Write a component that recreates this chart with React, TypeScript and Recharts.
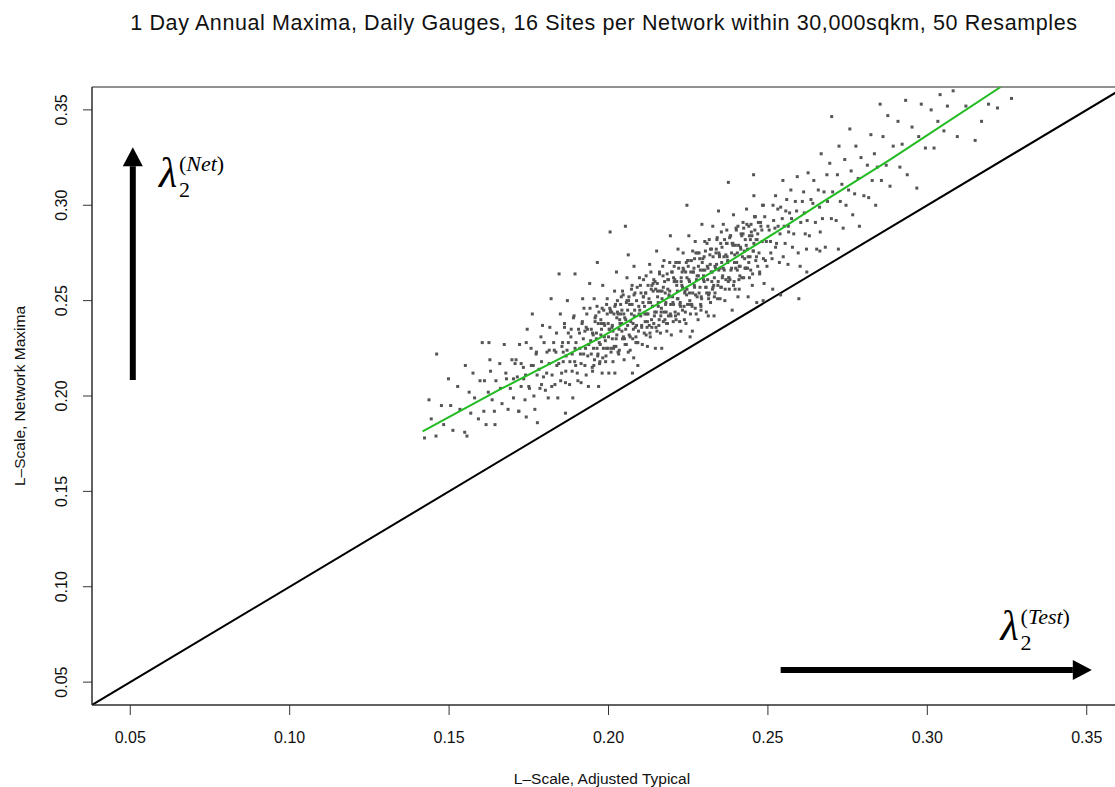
// Network maxima vs adjusted typical L-scale, R-style scatter redrawn with Recharts

import React from "react";
import {
  ScatterChart,
  Scatter,
  XAxis,
  YAxis,
  ReferenceLine,
  ReferenceArea,
  ReferenceDot,
} from "recharts";

const AXIS_MIN = 0.038;
const AXIS_MAX = 0.362;

const xTicks = [0.05, 0.1, 0.15, 0.2, 0.25, 0.3, 0.35];
const yTicks = [0.05, 0.1, 0.15, 0.2, 0.25, 0.3, 0.35];

const TITLE =
  "1 Day Annual Maxima, Daily Gauges, 16 Sites per Network within 30,000sqkm, 50 Resamples";
const X_LABEL = "L–Scale, Adjusted Typical";
const Y_LABEL = "L–Scale, Network Maxima";

// resampled networks, [adjusted typical, network maxima]
const tailLow: [number, number][] = [
  [0.1423, 0.178], [0.1437, 0.198], [0.1444, 0.188], [0.1459, 0.179], [0.1461, 0.222],
  [0.1476, 0.195], [0.1483, 0.185], [0.1498, 0.209], [0.1505, 0.195], [0.1512, 0.182],
  [0.1527, 0.205], [0.1534, 0.193], [0.1549, 0.181], [0.1551, 0.216], [0.1556, 0.179],
  [0.1563, 0.202], [0.1568, 0.191], [0.1575, 0.212], [0.158, 0.199], [0.1592, 0.188],
  [0.1597, 0.208], [0.1604, 0.228], [0.1609, 0.192], [0.1611, 0.208], [0.1616, 0.185],
  [0.1623, 0.202], [0.1628, 0.219], [0.1635, 0.198], [0.163, 0.213], [0.1625, 0.228],
  [0.1642, 0.192], [0.1647, 0.208], [0.1644, 0.185], [0.1659, 0.217], [0.1661, 0.204],
  [0.1666, 0.196], [0.1673, 0.227], [0.1678, 0.212], [0.1685, 0.193], [0.168, 0.209],
  [0.1692, 0.204], [0.1697, 0.219], [0.1702, 0.199], [0.1707, 0.217], [0.1714, 0.21],
  [0.1719, 0.192], [0.1721, 0.227], [0.1726, 0.205], [0.1733, 0.215], [0.1738, 0.198],
  [0.1745, 0.235], [0.174, 0.211], [0.1742, 0.189], [0.1752, 0.204], [0.1757, 0.225],
  [0.1764, 0.216], [0.1769, 0.193], [0.1761, 0.243], [0.1776, 0.211], [0.1773, 0.222],
  [0.1777, 0.186], [0.1788, 0.231], [0.1785, 0.204], [0.179, 0.218], [0.1796, 0.21],
  [0.1793, 0.237], [0.1802, 0.203], [0.1807, 0.223],
];

const bandLower: [number, number][] = [
  [0.1814, 0.217], [0.1811, 0.199], [0.1816, 0.236], [0.1823, 0.211], [0.1828, 0.228],
  [0.182, 0.251], [0.1835, 0.223], [0.1832, 0.206], [0.1837, 0.233], [0.1844, 0.217],
  [0.1849, 0.243], [0.1841, 0.199], [0.1856, 0.228], [0.1853, 0.212], [0.1858, 0.223],
  [0.1865, 0.207], [0.1862, 0.238], [0.1867, 0.221], [0.1874, 0.228], [0.1879, 0.218],
  [0.1871, 0.25], [0.1886, 0.213], [0.1883, 0.235], [0.1888, 0.199], [0.1895, 0.225],
  [0.1892, 0.242], [0.1897, 0.216], [0.1904, 0.208], [0.1909, 0.233], [0.1845, 0.264],
  [0.1865, 0.191], [0.1895, 0.264],
  [0.1912, 0.222], [0.1917, 0.238], [0.1914, 0.207], [0.1919, 0.251], [0.1921, 0.23],
  [0.1926, 0.216], [0.1923, 0.246], [0.1928, 0.225], [0.1935, 0.221], [0.193, 0.236],
  [0.1937, 0.205], [0.1932, 0.243], [0.1944, 0.229], [0.1949, 0.215], [0.1941, 0.259],
  [0.1946, 0.235], [0.1953, 0.225], [0.1958, 0.241], [0.195, 0.213], [0.1955, 0.251],
  [0.1962, 0.233], [0.1967, 0.222], [0.1964, 0.247], [0.1969, 0.205], [0.1971, 0.228],
  [0.1976, 0.24], [0.1973, 0.218], [0.1978, 0.235], [0.1985, 0.245], [0.198, 0.212],
  [0.1987, 0.231], [0.1982, 0.258], [0.1994, 0.225], [0.1999, 0.238], [0.1991, 0.218],
  [0.1996, 0.251], [0.2003, 0.235], [0.2008, 0.223], [0.2006, 0.244], [0.2001, 0.212],
  [0.2005, 0.286], [0.1965, 0.27],
  [0.2012, 0.23], [0.2017, 0.243], [0.2014, 0.218], [0.2019, 0.255], [0.2011, 0.236],
  [0.2026, 0.241], [0.2023, 0.226], [0.2028, 0.25], [0.202, 0.212], [0.2025, 0.265],
  [0.2033, 0.235], [0.2038, 0.248], [0.203, 0.223], [0.2035, 0.24], [0.2042, 0.245],
  [0.2047, 0.231], [0.2044, 0.255], [0.2049, 0.219], [0.2041, 0.238], [0.2056, 0.227],
  [0.2051, 0.241], [0.2058, 0.262], [0.2054, 0.235], [0.2063, 0.25], [0.2068, 0.224],
  [0.206, 0.245], [0.2065, 0.232], [0.2062, 0.274], [0.2077, 0.238], [0.2072, 0.256],
  [0.2079, 0.22], [0.2074, 0.248], [0.2081, 0.242], [0.2086, 0.231], [0.2083, 0.254],
  [0.2088, 0.237], [0.208, 0.268], [0.2095, 0.247], [0.209, 0.228], [0.2097, 0.262],
  [0.2092, 0.216], [0.2104, 0.237], [0.2109, 0.252], [0.2101, 0.242], [0.2053, 0.289],
  [0.2075, 0.212],
];

const core: [number, number][] = [
  [0.2113, 0.247], [0.2118, 0.232], [0.211, 0.261], [0.2115, 0.239], [0.2117, 0.254],
  [0.2122, 0.226], [0.2127, 0.251], [0.2124, 0.243], [0.2129, 0.269], [0.2121, 0.236],
  [0.2136, 0.258], [0.2131, 0.231], [0.2138, 0.247], [0.2133, 0.265], [0.2135, 0.24],
  [0.2145, 0.244], [0.214, 0.255], [0.2147, 0.225], [0.2142, 0.261], [0.2149, 0.236],
  [0.2154, 0.252], [0.2159, 0.24], [0.2151, 0.276], [0.2156, 0.247], [0.2153, 0.259],
  [0.2163, 0.233], [0.2168, 0.251], [0.216, 0.265], [0.2165, 0.244], [0.2167, 0.225],
  [0.2172, 0.257], [0.2177, 0.24], [0.2174, 0.271], [0.2179, 0.248], [0.2171, 0.263],
  [0.2181, 0.244], [0.2186, 0.256], [0.2183, 0.234], [0.2188, 0.261], [0.2185, 0.238],
  [0.219, 0.253], [0.2195, 0.248], [0.2192, 0.27], [0.2197, 0.232], [0.2194, 0.284],
  [0.2209, 0.244], [0.2204, 0.262], [0.2201, 0.252], [0.2206, 0.268], [0.2203, 0.239],
  [0.2214, 0.258], [0.2219, 0.243], [0.2211, 0.27], [0.2216, 0.251], [0.2218, 0.277],
  [0.2223, 0.239], [0.2228, 0.262], [0.2225, 0.249], [0.222, 0.267], [0.2227, 0.234],
  [0.2232, 0.257], [0.2237, 0.247], [0.2234, 0.275], [0.2239, 0.254], [0.2231, 0.265],
  [0.2241, 0.244], [0.2246, 0.262], [0.2243, 0.238], [0.2248, 0.271], [0.2245, 0.253],
  [0.225, 0.268], [0.2255, 0.25], [0.2252, 0.284], [0.2257, 0.243], [0.2254, 0.26],
  [0.2269, 0.258], [0.2264, 0.276], [0.2261, 0.248], [0.2266, 0.265], [0.2263, 0.234],
  [0.2278, 0.263], [0.2273, 0.253], [0.227, 0.272], [0.2275, 0.243], [0.2272, 0.281],
  [0.2287, 0.257], [0.2282, 0.268], [0.2289, 0.248], [0.2284, 0.275], [0.2281, 0.24],
  [0.2296, 0.266], [0.2291, 0.252], [0.2298, 0.263], [0.2293, 0.29], [0.229, 0.247],
  [0.2305, 0.257], [0.23, 0.273], [0.2307, 0.244], [0.2302, 0.266], [0.2309, 0.28],
  [0.2246, 0.3], [0.2256, 0.231],
  [0.2314, 0.253], [0.2319, 0.269], [0.2311, 0.261], [0.2316, 0.282], [0.2313, 0.242],
  [0.2323, 0.277], [0.2328, 0.257], [0.2325, 0.265], [0.232, 0.249], [0.2327, 0.289],
  [0.2332, 0.262], [0.2337, 0.275], [0.2334, 0.254], [0.2339, 0.269], [0.2331, 0.242],
  [0.2341, 0.283], [0.2346, 0.266], [0.2343, 0.258], [0.2348, 0.274], [0.2345, 0.297],
  [0.235, 0.251], [0.2355, 0.27], [0.2352, 0.28], [0.2357, 0.262], [0.2354, 0.257],
  [0.2368, 0.274], [0.2363, 0.266], [0.236, 0.29], [0.2365, 0.25], [0.2377, 0.262],
  [0.2372, 0.28], [0.2379, 0.256], [0.2374, 0.271], [0.2371, 0.287], [0.2386, 0.275],
  [0.2381, 0.261], [0.2388, 0.245], [0.2383, 0.284], [0.2395, 0.27], [0.239, 0.28],
  [0.2397, 0.256], [0.2392, 0.295], [0.2399, 0.267], [0.2404, 0.275], [0.2409, 0.261],
  [0.2401, 0.287], [0.2406, 0.252], [0.2376, 0.312],
];

// the darkest part of the cloud, close to the fitted curve
const denseCore: [number, number][] = [
  [0.1702, 0.209], [0.171, 0.219], [0.1718, 0.192], [0.1726, 0.217], [0.1734, 0.209],
  [0.1742, 0.228], [0.175, 0.205], [0.1758, 0.216], [0.1766, 0.2], [0.1774, 0.223],
  [0.1782, 0.214], [0.179, 0.206], [0.1798, 0.228], [0.1806, 0.212], [0.1814, 0.224],
  [0.1822, 0.205], [0.183, 0.224], [0.1838, 0.216],
  [0.185, 0.208], [0.1854, 0.226], [0.1858, 0.218], [0.1862, 0.236], [0.1866, 0.213],
  [0.187, 0.224], [0.1874, 0.233], [0.1878, 0.206], [0.1882, 0.231], [0.1886, 0.222],
  [0.189, 0.241], [0.1894, 0.218], [0.1898, 0.228], [0.1902, 0.212], [0.1906, 0.235],
  [0.191, 0.225], [0.1914, 0.217], [0.1918, 0.239], [0.1922, 0.222], [0.1926, 0.234],
  [0.193, 0.211], [0.1934, 0.235], [0.1938, 0.227], [0.1942, 0.246], [0.1946, 0.222],
  [0.195, 0.233], [0.1954, 0.216], [0.1958, 0.239], [0.1962, 0.23], [0.1966, 0.221],
  [0.197, 0.244], [0.1974, 0.227], [0.1978, 0.238], [0.1982, 0.22], [0.1986, 0.238],
  [0.199, 0.229], [0.1994, 0.248], [0.1998, 0.225], [0.2002, 0.235], [0.2006, 0.245],
  [0.201, 0.244], [0.2014, 0.234], [0.2018, 0.226], [0.2022, 0.248], [0.2026, 0.232],
  [0.203, 0.243], [0.2034, 0.224], [0.2038, 0.243], [0.2042, 0.234], [0.2046, 0.253],
  [0.205, 0.23], [0.2054, 0.24], [0.2058, 0.25], [0.2062, 0.223], [0.2066, 0.248],
  [0.207, 0.239], [0.2074, 0.258], [0.2078, 0.235], [0.2082, 0.245], [0.2086, 0.228],
  [0.209, 0.257], [0.2094, 0.234], [0.2098, 0.245], [0.2102, 0.254], [0.2106, 0.227],
  [0.211, 0.252], [0.2114, 0.243], [0.2118, 0.263], [0.2122, 0.239], [0.2126, 0.249],
  [0.213, 0.233], [0.2134, 0.256], [0.2138, 0.247], [0.2142, 0.238], [0.2146, 0.26],
  [0.215, 0.244], [0.2154, 0.255], [0.2158, 0.237], [0.2162, 0.255], [0.2166, 0.246],
  [0.217, 0.268], [0.2174, 0.244], [0.2178, 0.254], [0.2182, 0.238], [0.2186, 0.261],
  [0.219, 0.252], [0.2194, 0.243], [0.2198, 0.265], [0.2202, 0.249], [0.2206, 0.26],
  [0.221, 0.242], [0.2214, 0.26], [0.2218, 0.251], [0.2222, 0.27], [0.2226, 0.247],
  [0.223, 0.258], [0.2234, 0.267], [0.2238, 0.24], [0.2242, 0.265], [0.2246, 0.256],
  [0.225, 0.271], [0.2254, 0.254], [0.2258, 0.265], [0.2262, 0.247], [0.2266, 0.265],
  [0.227, 0.257], [0.2274, 0.275], [0.2278, 0.252], [0.2282, 0.263], [0.2286, 0.272],
  [0.229, 0.245], [0.2294, 0.27], [0.2298, 0.261], [0.2302, 0.281], [0.2306, 0.257],
  [0.231, 0.268], [0.2314, 0.251], [0.2318, 0.274], [0.2322, 0.265], [0.2326, 0.256],
  [0.233, 0.258], [0.2334, 0.268], [0.2338, 0.277], [0.2342, 0.251], [0.2346, 0.275],
  [0.235, 0.267], [0.2354, 0.286], [0.2358, 0.263], [0.2362, 0.273], [0.2366, 0.256],
  [0.237, 0.28], [0.2374, 0.27], [0.2378, 0.262], [0.2382, 0.284], [0.2386, 0.267],
  [0.239, 0.279], [0.2394, 0.26], [0.2398, 0.279], [0.2402, 0.27], [0.2406, 0.289],
  [0.241, 0.268], [0.2414, 0.278], [0.2418, 0.262], [0.2422, 0.285], [0.2426, 0.276],
  [0.243, 0.267], [0.2434, 0.29], [0.2438, 0.273], [0.2442, 0.284], [0.2446, 0.266],
  [0.245, 0.284], [0.2454, 0.276], [0.2458, 0.294], [0.2462, 0.271], [0.2466, 0.282],
  [0.247, 0.291], [0.2474, 0.265], [0.2478, 0.289], [0.2482, 0.281], [0.2486, 0.3],
  [0.2492, 0.271], [0.25, 0.289], [0.2508, 0.281], [0.2516, 0.3], [0.2524, 0.278],
  [0.2532, 0.289], [0.254, 0.299], [0.2548, 0.273], [0.2556, 0.297], [0.2564, 0.289],
];

// second pass over the solid centre of the cloud (x 0.195 - 0.247)
const solidCentre: [number, number][] = [
  [0.1952, 0.232], [0.1956, 0.219], [0.196, 0.242], [0.1964, 0.225], [0.1968, 0.238],
  [0.1972, 0.217], [0.1976, 0.232], [0.198, 0.246], [0.1984, 0.225], [0.1988, 0.237],
  [0.1992, 0.221], [0.1996, 0.243], [0.2, 0.231], [0.2004, 0.246], [0.2008, 0.225],
  [0.2012, 0.237], [0.2016, 0.225], [0.202, 0.247], [0.2024, 0.23], [0.2028, 0.244],
  [0.2032, 0.222], [0.2036, 0.238], [0.204, 0.252], [0.2044, 0.23], [0.2048, 0.243],
  [0.2052, 0.227], [0.2056, 0.249], [0.206, 0.237], [0.2064, 0.252], [0.2068, 0.231],
  [0.2072, 0.243], [0.2076, 0.23], [0.208, 0.253], [0.2084, 0.236], [0.2088, 0.25],
  [0.2092, 0.228], [0.2096, 0.243], [0.21, 0.258], [0.2104, 0.236], [0.2108, 0.249],
  [0.2112, 0.233], [0.2116, 0.254], [0.212, 0.243], [0.2124, 0.258], [0.2128, 0.237],
  [0.2132, 0.249], [0.2136, 0.236], [0.214, 0.259], [0.2144, 0.242], [0.2148, 0.256],
  [0.2152, 0.234], [0.2156, 0.249], [0.216, 0.264], [0.2164, 0.242], [0.2168, 0.255],
  [0.2172, 0.239], [0.2176, 0.26], [0.218, 0.249], [0.2184, 0.264], [0.2188, 0.242],
  [0.2192, 0.255], [0.2196, 0.242], [0.22, 0.265], [0.2204, 0.248], [0.2208, 0.261],
  [0.2212, 0.24], [0.2216, 0.255], [0.222, 0.27], [0.2224, 0.248], [0.2228, 0.26],
  [0.2232, 0.245], [0.2236, 0.266], [0.224, 0.255], [0.2244, 0.27], [0.2248, 0.248],
  [0.2252, 0.261], [0.2256, 0.248], [0.226, 0.271], [0.2264, 0.254], [0.2268, 0.267],
  [0.2272, 0.246], [0.2276, 0.261], [0.228, 0.275], [0.2284, 0.254], [0.2288, 0.266],
  [0.2292, 0.251], [0.2296, 0.272], [0.23, 0.26], [0.2304, 0.276], [0.2308, 0.254],
  [0.2312, 0.267], [0.2316, 0.254], [0.232, 0.277], [0.2324, 0.26], [0.2328, 0.273],
  [0.2332, 0.252], [0.2336, 0.267], [0.234, 0.282], [0.2344, 0.26], [0.2348, 0.273],
  [0.2352, 0.257], [0.2356, 0.278], [0.236, 0.267], [0.2364, 0.282], [0.2368, 0.261],
  [0.2372, 0.273], [0.2376, 0.26], [0.238, 0.283], [0.2384, 0.266], [0.2388, 0.28],
  [0.2392, 0.258], [0.2396, 0.274], [0.24, 0.288], [0.2404, 0.266], [0.2408, 0.279],
  [0.2412, 0.263], [0.2416, 0.285], [0.242, 0.273], [0.2424, 0.288], [0.2428, 0.267],
  [0.2432, 0.279], [0.2436, 0.267], [0.244, 0.289], [0.2444, 0.273], [0.2448, 0.286],
  [0.2452, 0.264], [0.2456, 0.28], [0.246, 0.294], [0.2464, 0.273], [0.2468, 0.285],
];

const bandUpper: [number, number][] = [
  [0.2413, 0.268], [0.2418, 0.284], [0.241, 0.256], [0.2415, 0.277], [0.2422, 0.291],
  [0.2427, 0.272], [0.2424, 0.262], [0.2429, 0.282], [0.2431, 0.267], [0.2436, 0.277],
  [0.2433, 0.298], [0.2438, 0.252], [0.2445, 0.282], [0.244, 0.27], [0.2447, 0.29],
  [0.2442, 0.262], [0.2454, 0.276], [0.2459, 0.287], [0.2451, 0.258], [0.2456, 0.305],
  [0.2463, 0.282], [0.2468, 0.268], [0.246, 0.294], [0.2465, 0.249], [0.2472, 0.275],
  [0.2477, 0.291], [0.2474, 0.264], [0.2481, 0.287], [0.2486, 0.272], [0.2483, 0.3],
  [0.2488, 0.259], [0.2495, 0.281], [0.249, 0.294], [0.2497, 0.268], [0.2504, 0.287],
  [0.2509, 0.275], [0.2455, 0.316], [0.2485, 0.25],
  [0.2513, 0.272], [0.2518, 0.292], [0.2515, 0.256], [0.2522, 0.288], [0.2527, 0.28],
  [0.2524, 0.305], [0.2536, 0.27], [0.2531, 0.298], [0.2538, 0.285], [0.2545, 0.293],
  [0.254, 0.253], [0.2547, 0.313], [0.2554, 0.28], [0.2559, 0.303], [0.2551, 0.289],
  [0.2563, 0.269], [0.2568, 0.296], [0.2565, 0.286], [0.2572, 0.308], [0.2577, 0.278],
  [0.2574, 0.293], [0.2581, 0.285], [0.2586, 0.302], [0.2597, 0.251], [0.259, 0.297],
  [0.2595, 0.275], [0.2592, 0.315], [0.2603, 0.291], [0.2608, 0.302], [0.2601, 0.268],
  [0.2612, 0.307], [0.2617, 0.285], [0.2614, 0.296], [0.2621, 0.277], [0.2626, 0.317],
  [0.2623, 0.292], [0.2635, 0.303], [0.263, 0.284], [0.2644, 0.313], [0.2649, 0.291],
  [0.2641, 0.301], [0.2653, 0.277], [0.2658, 0.308], [0.2662, 0.299], [0.2667, 0.327],
  [0.2664, 0.286], [0.2676, 0.307], [0.2671, 0.293], [0.2685, 0.316], [0.268, 0.278],
  [0.2687, 0.302], [0.2694, 0.322], [0.2699, 0.293], [0.2703, 0.307], [0.2622, 0.265],
  [0.2663, 0.276], [0.2721, 0.277],
];

const tailHigh: [number, number][] = [
  [0.2714, 0.292], [0.2718, 0.316], [0.2723, 0.331], [0.2727, 0.302], [0.2732, 0.311],
  [0.2736, 0.288], [0.2741, 0.324], [0.2745, 0.3], [0.2753, 0.308], [0.2757, 0.34],
  [0.2761, 0.318], [0.2766, 0.295], [0.2772, 0.306], [0.2776, 0.331], [0.2783, 0.314],
  [0.2787, 0.289], [0.2792, 0.325], [0.2801, 0.305], [0.27, 0.3465],
  [0.2812, 0.321], [0.2816, 0.304], [0.2823, 0.337], [0.2827, 0.313], [0.2834, 0.327],
  [0.2838, 0.3], [0.2843, 0.32], [0.2852, 0.353], [0.2856, 0.313], [0.2861, 0.336],
  [0.2871, 0.321], [0.2876, 0.347], [0.2883, 0.31], [0.2893, 0.331],
  [0.2908, 0.344], [0.2914, 0.32], [0.2921, 0.332], [0.2932, 0.355], [0.2937, 0.316],
  [0.2952, 0.341], [0.2967, 0.309], [0.2973, 0.336], [0.2981, 0.353], [0.2994, 0.33],
  [0.3012, 0.35], [0.3021, 0.33], [0.3033, 0.344], [0.304, 0.358], [0.3052, 0.339],
  [0.3063, 0.352], [0.3081, 0.36], [0.3094, 0.336], [0.3121, 0.352], [0.315, 0.334],
  [0.317, 0.344], [0.3192, 0.353], [0.322, 0.351], [0.3264, 0.356],
];

// smooth fit (green)
const smoothX = [0.1417, 0.1658, 0.1972, 0.2338, 0.2537, 0.2657, 0.2882, 0.323];
const smoothY = [0.1815, 0.2033, 0.2304, 0.2662, 0.2871, 0.3002, 0.3238, 0.362];

// 1:1 line
const identity = [AXIS_MIN, AXIS_MAX];

// arrows [start, tip] and label anchors
const netArrowX = [0.0508, 0.0508];
const netArrowY = [0.2084, 0.3304];
const testArrowX = [0.254, 0.3516];
const testArrowY = [0.0563, 0.0563];
const netLabelAt = [0.0593, 0.3097];
const testLabelAt = [0.3233, 0.0721];

const cloud = [
  ...tailLow,
  ...bandLower,
  ...core,
  ...denseCore,
  ...solidCentre,
  ...bandUpper,
  ...tailHigh,
].map(([x, y]) => ({ x, y }));
const smooth = smoothX.map((x, i) => ({ x, y: smoothY[i] }));

const SANS = "'Liberation Sans', Arial, Helvetica, sans-serif";
const SERIF = "'Liberation Serif', 'Times New Roman', serif";
const INK = "#111";

const PointMark = (p: any) => (
  <rect x={p.cx - 1.5} y={p.cy - 1.5} width={3} height={3} fill="#555" />
);

const NoMark = () => <g />;

function XTick({ x, y, payload }: any) {
  return (
    <text x={x} y={y} dy="0.71em" textAnchor="middle" fontSize={16} fill={INK} fontFamily={SANS}>
      {Number(payload.value).toFixed(2)}
    </text>
  );
}

function YTick({ x, y, payload }: any) {
  return (
    <text
      x={x}
      y={y}
      transform={`rotate(-90 ${x} ${y})`}
      textAnchor="middle"
      fontSize={16}
      fill={INK}
      fontFamily={SANS}
    >
      {Number(payload.value).toFixed(2)}
    </text>
  );
}

function Arrow(props: any) {
  const { x1, y1, x2, y2 } = props;
  const dx = x2 - x1;
  const dy = y2 - y1;
  const len = Math.hypot(dx, dy) || 1;
  const ux = dx / len;
  const uy = dy / len;
  const head = 19;
  const half = 10;
  const bx = x2 - ux * head;
  const by = y2 - uy * head;
  const px = -uy * half;
  const py = ux * half;
  return (
    <g>
      <line x1={x1} y1={y1} x2={bx} y2={by} stroke="#000" strokeWidth={6} />
      <polygon points={`${x2},${y2} ${bx + px},${by + py} ${bx - px},${by - py}`} fill="#000" />
    </g>
  );
}

function lambdaLabel(sup: string) {
  return (p: any) => (
    <g fill="#000" fontFamily={SERIF}>
      <text x={p.cx - 1} y={p.cy} fontSize={42} fontStyle="italic">
        λ
      </text>
      <text x={p.cx + 19} y={p.cy + 10} fontSize={22}>
        2
      </text>
      <text x={p.cx + 19} y={p.cy - 16} fontSize={22}>
        (<tspan fontStyle="italic">{sup}</tspan>)
      </text>
    </g>
  );
}

export default function App() {
  return (
    <div
      style={{
        position: "relative",
        width: 1115,
        height: 787,
        overflow: "hidden",
        background: "#fff",
      }}
    >
      <style>{`body{margin:0}`}</style>
      <ScatterChart width={1125} height={787} margin={{ top: 87, right: 0, bottom: 0, left: 0 }}>
        <XAxis
          type="number"
          dataKey="x"
          domain={[AXIS_MIN, AXIS_MAX]}
          allowDataOverflow
          ticks={xTicks}
          interval={0}
          tick={<XTick />}
          tickSize={10}
          tickMargin={17}
          height={82}
          stroke="#333"
        />
        <YAxis
          type="number"
          dataKey="y"
          domain={[AXIS_MIN, AXIS_MAX]}
          allowDataOverflow
          ticks={yTicks}
          interval={0}
          tick={<YTick />}
          tickSize={9}
          tickMargin={16}
          width={92}
          stroke="#333"
        />
        <ReferenceArea
          x1={AXIS_MIN}
          x2={AXIS_MAX}
          y1={AXIS_MIN}
          y2={AXIS_MAX}
          fill="none"
          fillOpacity={0}
          stroke="#222"
          strokeWidth={1}
          ifOverflow="visible"
        />
        <ReferenceLine
          segment={[
            { x: identity[0], y: identity[0] },
            { x: identity[1], y: identity[1] },
          ]}
          stroke="#000"
          strokeWidth={2}
          ifOverflow="hidden"
        />
        <ReferenceLine
          segment={[
            { x: netArrowX[0], y: netArrowY[0] },
            { x: netArrowX[1], y: netArrowY[1] },
          ]}
          shape={Arrow}
          ifOverflow="visible"
        />
        <ReferenceLine
          segment={[
            { x: testArrowX[0], y: testArrowY[0] },
            { x: testArrowX[1], y: testArrowY[1] },
          ]}
          shape={Arrow}
          ifOverflow="visible"
        />
        <ReferenceDot
          x={netLabelAt[0]}
          y={netLabelAt[1]}
          shape={lambdaLabel("Net")}
          ifOverflow="visible"
        />
        <ReferenceDot
          x={testLabelAt[0]}
          y={testLabelAt[1]}
          shape={lambdaLabel("Test")}
          ifOverflow="visible"
        />
        <Scatter data={cloud} shape={PointMark} fill="#555" isAnimationActive={false} />
        <Scatter
          data={smooth}
          shape={NoMark}
          fill="#22bb22"
          line={{ stroke: "#22bb22", strokeWidth: 2 }}
          lineType="joint"
          isAnimationActive={false}
        />
      </ScatterChart>
      <svg
        width={1115}
        height={787}
        style={{ position: "absolute", left: 0, top: 0, pointerEvents: "none" }}
      >
        <text
          x={604}
          y={30}
          textAnchor="middle"
          fontSize={21.5}
          letterSpacing={0.6}
          fill={INK}
          fontFamily={SANS}
        >
          {TITLE}
        </text>
        <text x={602} y={784} textAnchor="middle" fontSize={15.5} fill={INK} fontFamily={SANS}>
          {X_LABEL}
        </text>
        <text
          x={25}
          y={396}
          transform="rotate(-90 25 396)"
          textAnchor="middle"
          fontSize={15.5}
          fill={INK}
          fontFamily={SANS}
        >
          {Y_LABEL}
        </text>
      </svg>
    </div>
  );
}
